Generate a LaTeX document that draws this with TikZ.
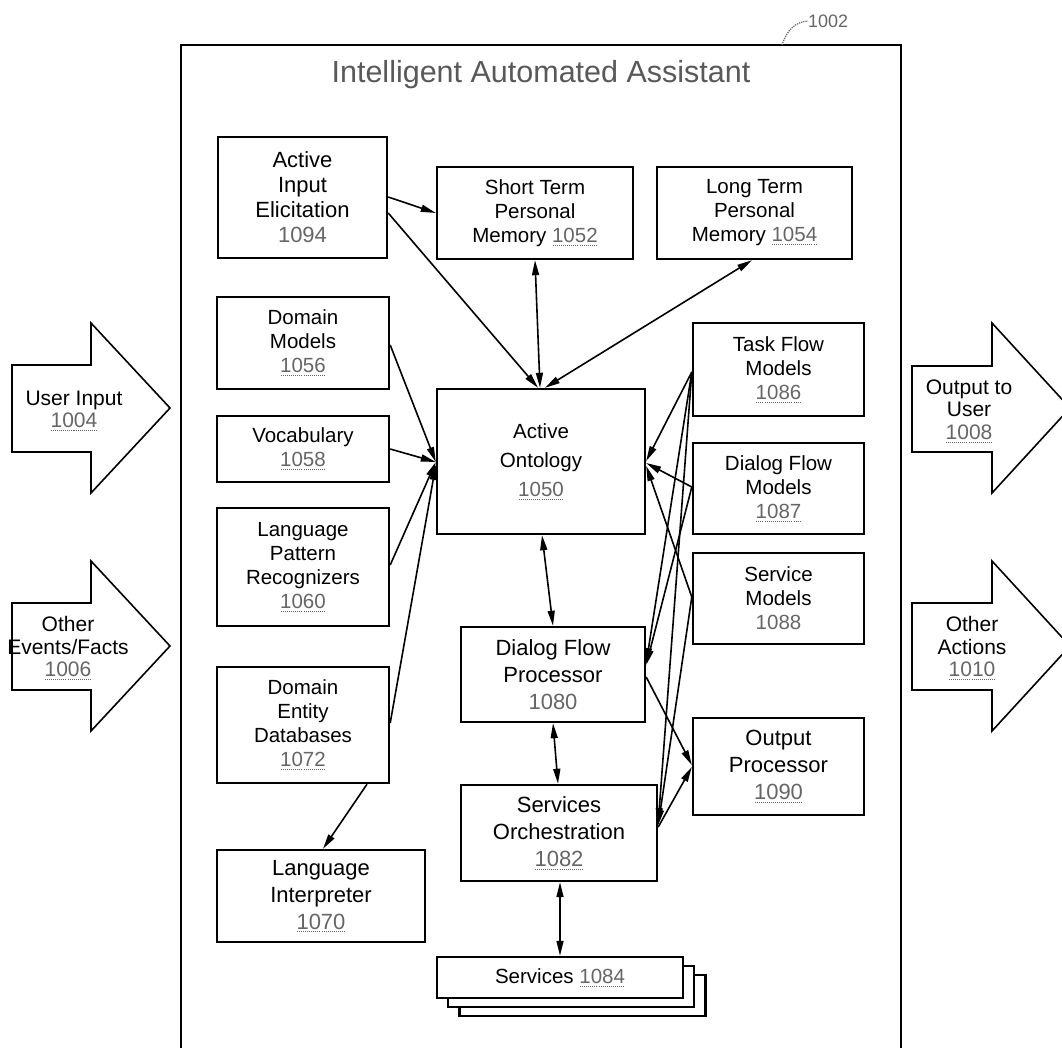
\documentclass[tikz,border=0pt]{standalone}
\usepackage{fontspec}
\setmainfont{Liberation Sans}
\usetikzlibrary{arrows.meta}
\pgfdeclarelayer{background}
\pgfsetlayers{background,main}
\newcommand\rnn[1]{{\color{black!60}#1}}
\newcommand\rn[1]{{\color{black!60}\setbox0\hbox{#1}\rlap{\raisebox{-3pt}{\hbox to \wd0{\xleaders\hbox to 2pt{\hss\rule{1pt}{0.7pt}\hss}\hfill}}}\box0}}
\tikzset{
  box/.style={draw, line width=2.4pt, fill=white, align=center, inner sep=0pt,
              font=\fontsize{20.5}{24}\selectfont},
  bigbox/.style={box, font=\fontsize{22}{27}\selectfont},
  conn/.style={line width=1.6pt, -{Triangle[length=15pt,width=7pt]}},
  bidir/.style={line width=1.6pt, {Triangle[length=15pt,width=7pt]}-{Triangle[length=15pt,width=7pt]}},
  blockarrow/.style={draw, line width=1.6pt, fill=white, line join=miter},
  lbl/.style={align=center, inner sep=0pt, font=\fontsize{21}{22.5}\selectfont},
}
\begin{document}
\begin{tikzpicture}[x=1pt,y=-1pt]
\clip (0,0) rectangle (1062,1047);
\fill[white] (0,0) rectangle (1062,1047);

% outer frame
\draw[line width=1.8pt] (181,1050) -- (181,45) -- (901,45) -- (901,1050);
\node[font=\fontsize{30.5}{36}\selectfont, text=black!65, inner sep=0pt] (title) at (541,75) {Intelligent Automated Assistant};
\node[font=\fontsize{18}{20}\selectfont, text=black!60, inner sep=0pt, anchor=west] (lab) at (808,21) {1002};
\draw[black!60, line width=1.2pt, densely dotted] (782,45) .. controls (787,30) and (795,22) .. (lab.west);

% block arrows
\draw[blockarrow] (12,365) -- (91,365) -- (91,323) -- (170,408) -- (91,493) -- (91,452) -- (12,452) -- cycle;
\node[lbl] (uin) at (74,411) {User Input\\\rn{1004}};
\draw[blockarrow] (12,603) -- (91,603) -- (91,561) -- (170,646) -- (91,731) -- (91,690) -- (12,690) -- cycle;
\node[lbl] (oev) at (68,648) {Other\\Events/Facts\\\rn{1006}};
\draw[blockarrow] (912,366) -- (992,366) -- (992,323) -- (1070,408) -- (992,493) -- (992,452) -- (912,452) -- cycle;
\node[lbl] (out) at (969,411) {Output to\\User\\\rn{1008}};
\draw[blockarrow] (912,603) -- (992,603) -- (992,561) -- (1070,646) -- (992,731) -- (992,690) -- (912,690) -- cycle;
\node[lbl] (oac) at (972,648) {Other\\Actions\\\rn{1010}};

% boxes
\node[bigbox, minimum width=169pt, minimum height=121pt, font=\fontsize{22}{25}\selectfont] (aie) at (302.5,197.5) {Active\\Input\\Elicitation\\\rnn{1094}};
\node[box, minimum width=196pt, minimum height=92pt] (stm) at (535,213) {Short Term\\Personal\\Memory \rn{1052}};
\node[box, minimum width=195pt, minimum height=92pt] (ltm) at (754.5,213) {Long Term\\Personal\\Memory \rn{1054}};
\node[box, minimum width=172pt, minimum height=92pt] (dm) at (303,343) {Domain\\Models\\\rn{1056}};
\node[box, minimum width=172pt, minimum height=66pt] (voc) at (303,449) {Vocabulary\\\rn{1058}};
\node[box, minimum width=172pt, minimum height=118pt] (lpr) at (303,567) {Language\\Pattern\\Recognizers\\\rn{1060}};
\node[box, minimum width=172pt, minimum height=116pt] (ded) at (303,725) {Domain\\Entity\\Databases\\\rn{1072}};
\node[bigbox, minimum width=208pt, minimum height=92pt] (li) at (321,896) {Language\\Interpreter\\\rn{1070}};
\node[box, minimum width=208pt, minimum height=145pt, font=\fontsize{20.5}{29}\selectfont] (ao) at (541,461.5) {Active\\Ontology\\\rn{1050}};
\node[bigbox, minimum width=184pt, minimum height=95pt] (dfp) at (553,674.5) {Dialog Flow\\Processor\\\rnn{1080}};
\node[bigbox, minimum width=196pt, minimum height=96pt] (so) at (559,833) {Services\\Orchestration\\\rn{1082}};
\node[box, minimum width=246pt, minimum height=41pt] (svc3) at (582.5,995.5) {};
\node[box, minimum width=246pt, minimum height=41pt] (svc2) at (571,986.5) {};
\node[box, minimum width=246pt, minimum height=41pt] (svc) at (560,977.5) {Services \rn{1084}};
\node[box, minimum width=171pt, minimum height=93pt] (tfm) at (778.5,369.5) {Task Flow\\Models\\\rn{1086}};
\node[box, minimum width=171pt, minimum height=91pt] (dfm) at (778.5,488.5) {Dialog Flow\\Models\\\rn{1087}};
\node[box, minimum width=171pt, minimum height=91pt] (sm) at (778.5,598.5) {Service\\Models\\\rnn{1088}};
\node[bigbox, minimum width=171pt, minimum height=97pt] (op) at (778.5,766.5) {Output\\Processor\\\rn{1090}};

% connectors
\draw[conn] (aie.east |- 0,197) -- (stm.west |- 0,213);
\draw[conn] (aie.east |- 0,213) -- (538,0 |- ao.north);
\draw[bidir] (535,0 |- stm.south) -- (540,0 |- ao.north);
\draw[bidir] (545,0 |- ao.north) -- (752,0 |- ltm.south);
\draw[conn] (dm.east |- 0,345) -- (ao.west |- 0,462);
\draw[conn] (voc.east |- 0,449) -- (ao.west |- 0,462);
\draw[conn] (lpr.east |- 0,565) -- (ao.west |- 0,462);
\draw[conn] (ded.east |- 0,723) -- (ao.west |- 0,465);
\begin{pgfonlayer}{background}
\draw[conn] (ded.east |- 0,752) -- (538,0 |- ao.south);
\end{pgfonlayer}
\draw[conn] (367,0 |- ded.south) -- (323,0 |- li.north);
\draw[bidir] (542,0 |- ao.south) -- (553,0 |- dfp.north);
\draw[bidir] (553,0 |- dfp.south) -- (558,0 |- so.north);
\draw[bidir] (560,0 |- so.south) -- (560,0 |- svc.north);
\draw[conn] (tfm.west |- 0,372) -- (ao.east |- 0,461);
\draw[conn] (tfm.west |- 0,372) -- (dfp.east |- 0,663);
\draw[conn] (tfm.west |- 0,372) -- (so.east |- 0,823);
\draw[conn] (dfm.west |- 0,487) -- (ao.east |- 0,463);
\draw[conn] (dfm.west |- 0,487) -- (dfp.east |- 0,665);
\draw[conn] (sm.west |- 0,597) -- (ao.east |- 0,466);
\draw[conn] (sm.west |- 0,597) -- (so.east |- 0,825);
\draw[conn] (dfp.east |- 0,677) -- (op.west |- 0,765);
\draw[conn] (so.east |- 0,827) -- (op.west |- 0,767);
\end{tikzpicture}
\end{document}
